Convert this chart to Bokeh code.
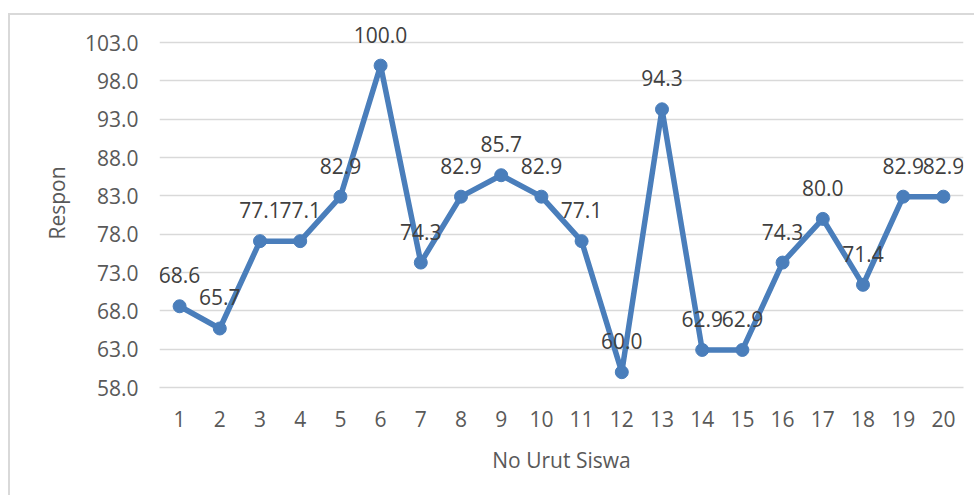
from bokeh.plotting import figure
from bokeh.models import ColumnDataSource, FixedTicker, NumeralTickFormatter, FactorRange, Range1d, LabelSet
from bokeh.core.properties import value
from bokeh.embed import file_html
from bokeh.resources import INLINE

students = [str(i) for i in range(1, 21)]
respon = [68.6, 65.7, 77.1, 77.1, 82.9, 100.0, 74.3, 82.9, 85.7, 82.9,
          77.1, 60.0, 94.3, 62.9, 62.9, 74.3, 80.0, 71.4, 82.9, 82.9]
y_ticks = [58.0, 63.0, 68.0, 73.0, 78.0, 83.0, 88.0, 93.0, 98.0, 103.0]

FONT = "Open Sans"
LINE = "#4a7ebb"

src = ColumnDataSource(dict(x=students, y=respon,
                            lbl=["%.1f" % v for v in respon]))

# frame extends a little above the last tick so the top data label is not clipped
p = figure(width=966, height=482, x_range=FactorRange(*students),
           y_range=Range1d(58, 106.15), output_backend="svg",
           toolbar_location=None, min_border_left=149, min_border_right=13,
           min_border_top=3, min_border_bottom=110)
p.margin = (13, 0, 0, 8)
p.styles = {"border-left": "2px solid #d9d9d9", "border-top": "2px solid #d9d9d9"}
p.outline_line_color = None
p.background_fill_color = "white"
p.border_fill_color = "white"

p.line("x", "y", source=src, line_color=LINE, line_width=5.5)
p.scatter("x", "y", source=src, size=13, fill_color=LINE, line_color=LINE)
labels = LabelSet(x="x", y="y", text="lbl", source=src, y_offset=31,
                  text_align="center", text_baseline="middle",
                  text_font=value(FONT), text_font_size="21px", text_color="#404040")
p.add_layout(labels)

p.xgrid.grid_line_color = None
p.ygrid.grid_line_color = "#d9d9d9"
p.ygrid.grid_line_width = 1.5

p.yaxis.ticker = FixedTicker(ticks=y_ticks)
p.yaxis.formatter = NumeralTickFormatter(format="0.0")
for ax in (p.xaxis, p.yaxis):
    ax.major_tick_line_color = None
    ax.minor_tick_line_color = None
    ax.major_label_text_font = FONT
    ax.major_label_text_font_size = "21px"
    ax.major_label_text_color = "#595959"
    ax.axis_label_text_font = FONT
    ax.axis_label_text_font_size = "21px"
    ax.axis_label_text_color = "#595959"
    ax.axis_label_text_font_style = "normal"
p.yaxis.axis_line_color = None
p.xaxis.axis_line_color = "#d9d9d9"
p.xaxis.axis_line_width = 1.5
p.yaxis.major_label_standoff = 15
p.xaxis.major_label_standoff = 17
p.xaxis.axis_label = "No Urut Siswa"
p.yaxis.axis_label = "Respon"
p.xaxis.axis_label_standoff = 16
p.yaxis.axis_label_standoff = 11

open("out.html", "w").write(file_html(p, INLINE))
